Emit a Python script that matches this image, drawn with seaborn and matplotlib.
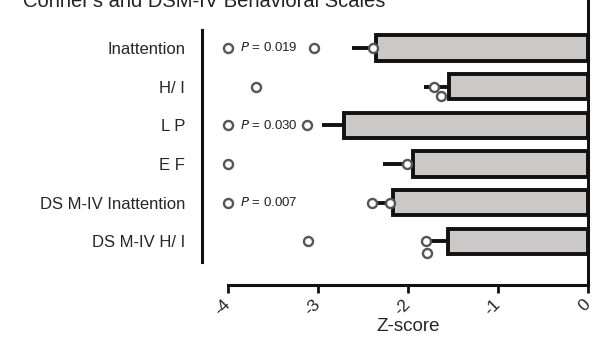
import matplotlib
matplotlib.use("Agg")
import matplotlib.pyplot as plt
import numpy as np
import pandas as pd
import seaborn as sns

sns.set_theme(style="ticks")
plt.rcParams['font.family'] = ['Liberation Sans', 'DejaVu Sans']

# data
scales = ["Inattention", "H/ I", "L P", "E F", "DS M-IV Inattention", "DS M-IV H/ I"]
mean_z = [-2.36, -1.55, -2.71, -1.94, -2.17, -1.56]
sem_z = [0.26, 0.27, 0.25, 0.34, 0.23, 0.22]

pt_scale = ["Inattention", "Inattention", "Inattention",
            "H/ I", "H/ I", "H/ I",
            "L P", "L P",
            "E F", "E F",
            "DS M-IV Inattention", "DS M-IV Inattention", "DS M-IV Inattention",
            "DS M-IV H/ I", "DS M-IV H/ I", "DS M-IV H/ I"]
pt_z = [-4.0, -3.04, -2.39,
        -3.69, -1.71, -1.63,
        -4.0, -3.12,
        -4.0, -2.01,
        -4.0, -2.40, -2.20,
        -3.11, -1.80, -1.79]

p_scale = ["Inattention", "L P", "DS M-IV Inattention"]
p_text = ["0.019", "0.030", "0.007"]

bars = pd.DataFrame({"scale": scales, "z": mean_z, "sem": sem_z})
pts = pd.DataFrame({"scale": pt_scale, "z": pt_z})

fig = plt.figure(figsize=(5.93, 3.38), dpi=100)
ax = fig.add_axes([228 / 593, 1 - 285 / 338, 360 / 593, 285 / 338])

sns.barplot(data=bars, x="z", y="scale", order=scales, orient="h",
            color="#cbc8c8", edgecolor="#111111", linewidth=2.8,
            width=0.66, saturation=1, errorbar=None, ax=ax)

ypos = np.arange(len(scales))
ax.errorbar(bars["z"], ypos, xerr=[bars["sem"], np.zeros(len(scales))],
            fmt="none", ecolor="#111111", elinewidth=2.8, capsize=0, zorder=3)

sns.swarmplot(data=pts, x="z", y="scale", order=scales, orient="h",
              size=6.5, marker="o", edgecolor="#555555",
              linewidth=1.7, ax=ax, zorder=4)
for c in ax.collections:
    c.set_facecolor("white")
    c.set_clip_on(False)

for s, p in zip(p_scale, p_text):
    ax.text(-3.87, scales.index(s), "$P$ = " + p, va="center", ha="left",
            fontsize=9.5, color="#222222")

ax.set_xlim(-4, 0)
ax.set_ylim(6.13, -1.24)
ax.set_xticks([-4, -3, -2, -1, 0])
ax.set_xticklabels(["-4", "-3", "-2", "-1", "0"], rotation=45, fontsize=12.5,
                   ha="right", va="center", rotation_mode="anchor")
ax.set_xlabel("Z-score", fontsize=13.5, labelpad=0)
ax.set_ylabel("")
ax.tick_params(axis="y", length=0, labelsize=12, pad=12)
ax.tick_params(axis="x", length=6, width=2, color="#111111", pad=6)

ax.spines["top"].set_visible(False)
ax.spines["left"].set_position(("outward", 26 * 72 / 100))
ax.spines["left"].set_bounds(-0.47, 5.54)
for sp in ["left", "bottom", "right"]:
    ax.spines[sp].set_linewidth(2.2)
    ax.spines[sp].set_color("#111111")

fig.text(23 / 593, 1 - 7 / 338, "Conner's and DSM-IV Behavioral Scales",
         va="baseline", ha="left", fontsize=14.5, color="#222222")

fig.savefig("out.png", dpi=100)
